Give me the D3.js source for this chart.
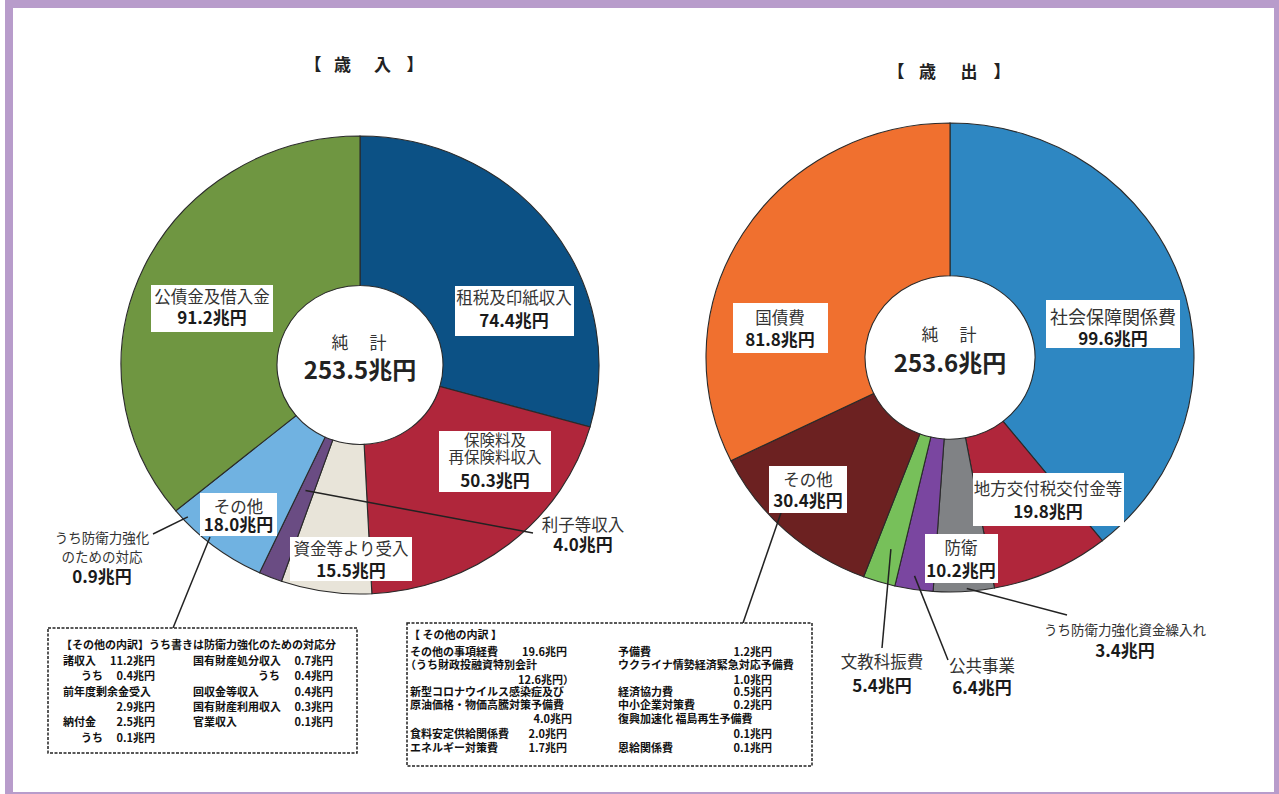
<!DOCTYPE html>
<html>
<head>
<meta charset="utf-8">
<script src="https://cdn.jsdelivr.net/npm/d3@7"></script>
<style>
  body { margin: 0; background: #fff; }
  svg text { font-family: "Noto Sans CJK JP", "Noto Sans", sans-serif; }
</style>
</head>
<body>
<svg id="chart" width="1279" height="794"></svg>
<script>
// ---- data ----
const revenueNames  = ["租税及印紙収入", "保険料及\n再保険料収入", "資金等より受入", "利子等収入", "その他", "公債金及借入金"];
const revenueValues = [74.4, 50.3, 15.5, 4.0, 18.0, 91.2];
const revenueTotal  = 253.5;

const expenseNames  = ["社会保障関係費", "地方交付税交付金等", "防衛", "公共事業", "文教科振費", "その他", "国債費"];
const expenseValues = [99.6, 19.8, 10.2, 6.4, 5.4, 30.4, 81.8];
const expenseTotal  = 253.6;

const revenueDefense = 0.9;   // うち防衛力強化のための対応
const expenseDefense = 3.4;   // うち防衛力強化資金繰入れ

// ---- styles ----
const revenueColors = ["#0c5185", "#b0263b", "#e8e4d9", "#6a4c83", "#70b2e1", "#6f9641"];
const expenseColors = ["#2e87c2", "#b0263b", "#808285", "#7a46a0", "#77c05a", "#6c2121", "#f0702f"];

const svg = d3.select("#chart");
const fmt = v => v.toFixed(1) + "兆円";

// purple frame
svg.append("rect")
  .attr("x", 9).attr("y", 4)
  .attr("width", 1269).attr("height", 792)
  .attr("fill", "none")
  .attr("stroke", "#b89ccb")
  .attr("stroke-width", 8);

// titles
function title(chars, xs, y) {
  chars.forEach((c, i) => {
    svg.append("text")
      .attr("x", xs[i]).attr("y", y).attr("dy", "0.35em")
      .attr("text-anchor", "middle")
      .attr("font-size", 17).attr("font-weight", "bold")
      .attr("fill", "#222")
      .text(c);
  });
}
title(["【", "歳", "入", "】"], [313, 342.5, 382.5, 415], 65);
title(["【", "歳", "出", "】"], [896, 927.5, 969, 1002], 72);

// ---- donut ----
function donut(cfg) {
  const pie = d3.pie().sort(null).value(d => d)(cfg.values);
  const arc = d3.arc().innerRadius(cfg.r0).outerRadius(cfg.r1);

  const g = svg.append("g")
    .attr("transform", `translate(${cfg.cx},${cfg.cy}) scale(1,${cfg.sy})`);

  g.selectAll("path")
    .data(pie)
    .join("path")
      .attr("d", arc)
      .attr("fill", (d, i) => cfg.colors[i])
      .attr("stroke", "#2a2a2a")
      .attr("stroke-width", 1.1)
      .attr("vector-effect", "non-scaling-stroke");

  // point on slice i at angle fraction t, radius r (screen coords)
  const at = (i, t, r) => {
    const a = pie[i].startAngle + t * (pie[i].endAngle - pie[i].startAngle);
    return [cfg.cx + r * Math.sin(a), cfg.cy - r * Math.cos(a) * cfg.sy];
  };

  // centre text
  svg.append("text")
    .attr("x", cfg.cx).attr("y", cfg.cy - 22).attr("dy", "0.35em")
    .attr("text-anchor", "middle")
    .attr("font-size", 17).attr("fill", "#333")
    .attr("letter-spacing", 2)
    .text("純　計");
  svg.append("text")
    .attr("x", cfg.cx).attr("y", cfg.cy + 6).attr("dy", "0.35em")
    .attr("text-anchor", "middle")
    .attr("font-size", 24).attr("font-weight", "bold").attr("fill", "#222")
    .text(fmt(cfg.total));

  return { pie, at };
}

const rev = donut({ cx: 360, cy: 365, r0: 83, r1: 239, sy: 0.958,
  values: revenueValues, colors: revenueColors, total: revenueTotal });
const exp = donut({ cx: 950, cy: 357.5, r0: 85, r1: 244, sy: 0.961,
  values: expenseValues, colors: expenseColors, total: expenseTotal });

// ---- leader lines ----
function leader(p0, p1) {
  svg.append("line")
    .attr("x1", p0[0]).attr("y1", p0[1])
    .attr("x2", p1[0]).attr("y2", p1[1])
    .attr("stroke", "#222").attr("stroke-width", 1.5);
}
leader(rev.at(3, 0.6, 142), [533, 533]);
leader(rev.at(4, 0.88, 234), [153, 534]);
leader([210, 537], [173, 628]);

leader(exp.at(4, 0.45, 208), [882, 648]);
leader(exp.at(3, 0.54, 230), [948, 660]);
leader(exp.at(2, 0.45, 241), [1067, 615]);
leader([783, 507], [743, 623]);

// ---- labels ----
function label(lines, value, o) {
  if (o.box) {
    svg.append("rect")
      .attr("x", o.box[0]).attr("y", o.box[1])
      .attr("width", o.box[2]).attr("height", o.box[3])
      .attr("fill", "#fff");
  }
  lines.forEach((t, i) => {
    svg.append("text")
      .attr("x", o.cx).attr("y", o.ys[i]).attr("dy", "0.35em")
      .attr("text-anchor", "middle")
      .attr("font-size", o.fs || 16.5).attr("fill", "#333")
      .text(t);
  });
  svg.append("text")
    .attr("x", o.cx).attr("y", o.ys[lines.length]).attr("dy", "0.35em")
    .attr("text-anchor", "middle")
    .attr("font-size", 17).attr("font-weight", "bold").attr("fill", "#1a1a1a")
    .text(value);
}

const revLabelPos = [
  { box: [455, 286, 119, 50], cx: 514, ys: [298, 321] },
  { box: [439, 431, 112, 61], cx: 495, ys: [441, 458, 481], fs: 15.5 },
  { box: [290, 537, 122, 44], cx: 351, ys: [549, 571] },
  { cx: 583, ys: [525, 545] },
  { box: [200, 493, 77, 43], cx: 238.5, ys: [507, 525] },
  { box: [151, 285, 122, 47], cx: 212, ys: [297, 318] }
];
revenueNames.forEach((n, i) => label(n.split("\n"), fmt(revenueValues[i]), revLabelPos[i]));
label(["うち防衛力強化", "のための対応"], fmt(revenueDefense), { cx: 102, ys: [538, 557, 577], fs: 13.5 });

const expLabelPos = [
  { box: [1046, 300, 134, 48], cx: 1113, ys: [318, 339], fs: 18 },
  { box: [973, 473, 151, 53], cx: 1048, ys: [489, 512] },
  { box: [925, 534, 73, 49], cx: 961, ys: [548, 571] },
  { cx: 982, ys: [666, 688] },
  { cx: 882, ys: [662, 686] },
  { box: [769, 466, 78, 47], cx: 808, ys: [480, 501] },
  { box: [733, 303, 95, 50], cx: 780, ys: [318, 340] }
];
expenseNames.forEach((n, i) => label(n.split("\n"), fmt(expenseValues[i]), expLabelPos[i]));
label(["うち防衛力強化資金繰入れ"], fmt(expenseDefense), { cx: 1125, ys: [630, 651], fs: 13.5 });

// ---- breakdown notes ----
function note(box, rows) {
  svg.append("rect")
    .attr("x", box[0]).attr("y", box[1])
    .attr("width", box[2]).attr("height", box[3])
    .attr("fill", "#fff")
    .attr("stroke", "#222").attr("stroke-width", 1.5)
    .attr("stroke-dasharray", "3,1.5");
  rows.forEach(([t, x, y, anchor]) => {
    svg.append("text")
      .attr("x", x).attr("y", y).attr("dy", "0.35em")
      .attr("text-anchor", anchor || "start")
      .attr("font-size", 11).attr("font-weight", "bold").attr("fill", "#111")
      .text(t);
  });
}

note([48, 628, 309, 125], [
  ["【その他の内訳】うち書きは防衛力強化のための対応分", 61, 645],
  ["諸収入", 63, 661], ["11.2兆円", 155, 661, "end"],
  ["国有財産処分収入", 193, 661], ["0.7兆円", 333, 661, "end"],
  ["うち", 81, 676], ["0.4兆円", 155, 676, "end"],
  ["うち", 258, 676], ["0.4兆円", 333, 676, "end"],
  ["前年度剰余金受入", 63, 692],
  ["回収金等収入", 193, 692], ["0.4兆円", 333, 692, "end"],
  ["2.9兆円", 155, 707, "end"],
  ["国有財産利用収入", 193, 707], ["0.3兆円", 333, 707, "end"],
  ["納付金", 63, 722], ["2.5兆円", 155, 722, "end"],
  ["官業収入", 193, 722], ["0.1兆円", 333, 722, "end"],
  ["うち", 81, 738], ["0.1兆円", 155, 738, "end"]
]);

note([407, 623, 405, 143], [
  ["【 その他の内訳 】", 409, 635],
  ["その他の事項経費", 410, 652], ["19.6兆円", 567, 652, "end"],
  ["予備費", 618, 652], ["1.2兆円", 772, 652, "end"],
  ["（うち財政投融資特別会計", 405, 665],
  ["ウクライナ情勢経済緊急対応予備費", 618, 665],
  ["12.6兆円）", 518, 680],
  ["1.0兆円", 772, 680, "end"],
  ["新型コロナウイルス感染症及び", 410, 692],
  ["経済協力費", 618, 692], ["0.5兆円", 772, 692, "end"],
  ["原油価格・物価高騰対策予備費", 410, 705],
  ["中小企業対策費", 618, 705], ["0.2兆円", 772, 705, "end"],
  ["4.0兆円", 572, 719, "end"],
  ["復興加速化 福島再生予備費", 618, 719],
  ["食料安定供給関係費", 410, 734], ["2.0兆円", 567, 734, "end"],
  ["0.1兆円", 772, 734, "end"],
  ["エネルギー対策費", 410, 748], ["1.7兆円", 567, 748, "end"],
  ["恩給関係費", 618, 748], ["0.1兆円", 772, 748, "end"]
]);
</script>
</body>
</html>
